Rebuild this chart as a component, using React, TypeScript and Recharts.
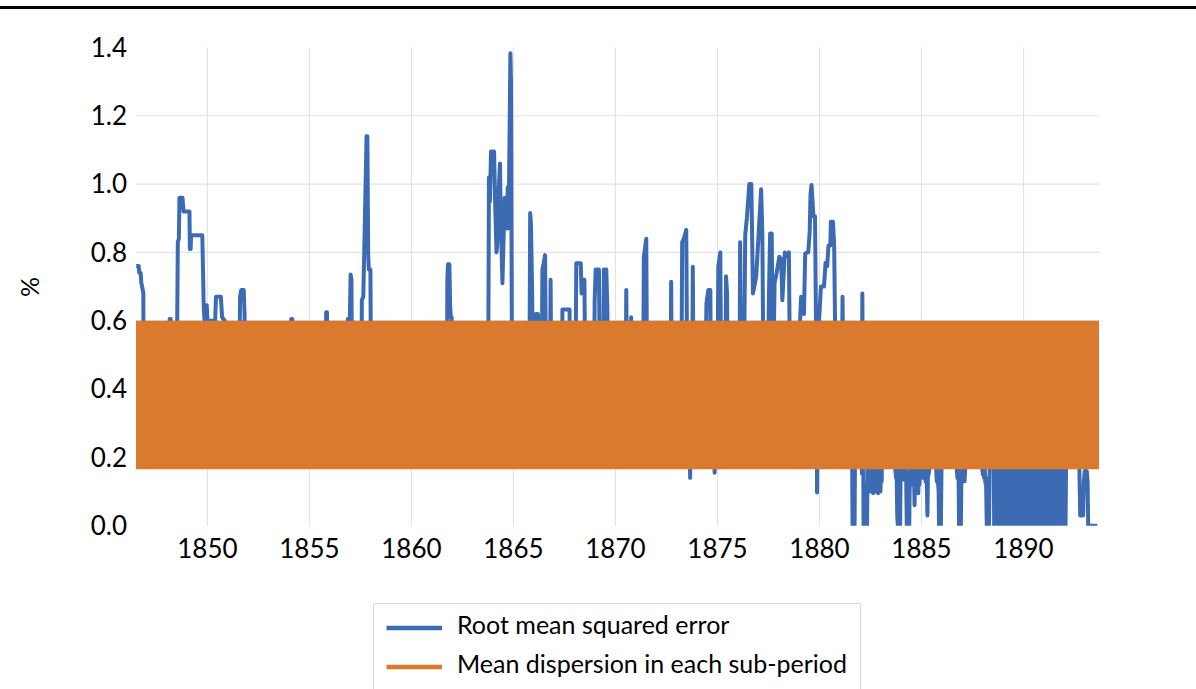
import React from 'react';
import { ComposedChart, Line, Area, XAxis, YAxis, CartesianGrid, Legend } from 'recharts';

const FONT = 'Lato, "Noto Sans", sans-serif';

const xDomain: [number, number] = [1846.5, 1893.7];
const xTicks = [1850, 1855, 1860, 1865, 1870, 1875, 1880, 1885, 1890];
const yTicks = [0, 0.2, 0.4, 0.6, 0.8, 1.0, 1.2, 1.4];
const gridYValues = [0.2, 0.4, 0.6, 0.8, 1.0, 1.2];

const seriesNames = ['Root mean squared error', 'Mean dispersion in each sub-period'];
const seriesColors = ['#3C6BB3', '#DA7A2F'];

// Mean dispersion band (sub-period bounds)
const dispersionYears = [1846.5, 1893.7];
const dispersionLow = [0.165, 0.165];
const dispersionHigh = [0.6, 0.6];

// Root mean squared error: [year, value]
const rmseSeries: [number, number][] = [
  [1846.51, 0.76], [1846.63, 0.76], [1846.66, 0.74], [1846.73, 0.74], [1846.76, 0.71], [1846.8, 0.7],
  [1846.83, 0.69], [1846.86, 0.68], [1846.87, 0.4], [1848.12, 0.4], [1848.15, 0.605], [1848.2, 0.605],
  [1848.22, 0.4], [1848.5, 0.45], [1848.55, 0.83], [1848.6, 0.84], [1848.63, 0.96], [1848.78, 0.96],
  [1848.83, 0.92], [1849.12, 0.92], [1849.14, 0.81], [1849.18, 0.81], [1849.2, 0.85], [1849.75, 0.85],
  [1849.82, 0.64], [1849.86, 0.6], [1849.9, 0.6], [1849.93, 0.645], [1849.97, 0.645], [1850.0, 0.6],
  [1850.38, 0.6], [1850.42, 0.67], [1850.66, 0.67], [1850.72, 0.61], [1850.85, 0.6], [1850.9, 0.4],
  [1851.56, 0.4], [1851.6, 0.67], [1851.66, 0.69], [1851.78, 0.69], [1851.82, 0.62], [1851.85, 0.4],
  [1854.08, 0.4], [1854.11, 0.605], [1854.16, 0.605], [1854.19, 0.4], [1855.8, 0.4], [1855.82, 0.625],
  [1855.86, 0.625], [1855.88, 0.4], [1856.86, 0.4], [1856.88, 0.605], [1856.98, 0.605], [1857.02, 0.735],
  [1857.06, 0.72], [1857.09, 0.4], [1857.55, 0.4], [1857.57, 0.66], [1857.64, 0.67], [1857.72, 0.9],
  [1857.8, 1.14], [1857.84, 1.14], [1857.88, 0.8], [1857.91, 0.75], [1857.99, 0.75], [1858.02, 0.4],
  [1861.74, 0.4], [1861.76, 0.72], [1861.79, 0.765], [1861.86, 0.765], [1861.9, 0.64], [1861.93, 0.61],
  [1861.97, 0.61], [1862.0, 0.4], [1863.76, 0.4], [1863.8, 1.02], [1863.85, 0.95], [1863.9, 1.095],
  [1864.05, 1.095], [1864.1, 0.95], [1864.17, 0.8], [1864.2, 0.82], [1864.26, 0.96], [1864.34, 1.06],
  [1864.38, 0.9], [1864.46, 0.71], [1864.52, 0.85], [1864.57, 0.96], [1864.63, 0.95], [1864.68, 0.87],
  [1864.72, 0.99], [1864.76, 0.87], [1864.82, 1.2], [1864.85, 1.383], [1864.88, 1.3], [1864.93, 0.4],
  [1865.78, 0.4], [1865.82, 0.915], [1865.86, 0.88], [1865.92, 0.67], [1865.95, 0.4], [1866.05, 0.4],
  [1866.1, 0.62], [1866.2, 0.62], [1866.26, 0.4], [1866.38, 0.4], [1866.42, 0.75], [1866.48, 0.768],
  [1866.55, 0.792], [1866.6, 0.4], [1866.79, 0.4], [1866.82, 0.72], [1866.86, 0.4], [1867.38, 0.4],
  [1867.4, 0.633], [1867.75, 0.633], [1867.78, 0.4], [1868.04, 0.4], [1868.08, 0.768], [1868.3, 0.768],
  [1868.34, 0.68], [1868.4, 0.72], [1868.48, 0.72], [1868.52, 0.4], [1868.95, 0.4], [1868.98, 0.656],
  [1869.03, 0.75], [1869.19, 0.75], [1869.24, 0.4], [1869.4, 0.4], [1869.43, 0.75], [1869.55, 0.75],
  [1869.6, 0.64], [1869.65, 0.4], [1870.5, 0.4], [1870.53, 0.69], [1870.57, 0.4], [1870.74, 0.4],
  [1870.77, 0.61], [1870.8, 0.4], [1871.36, 0.4], [1871.39, 0.786], [1871.51, 0.84], [1871.55, 0.4],
  [1872.7, 0.4], [1872.73, 0.714], [1872.76, 0.4], [1873.23, 0.4], [1873.27, 0.83], [1873.35, 0.84],
  [1873.47, 0.866], [1873.52, 0.4], [1873.6, 0.4], [1873.66, 0.14], [1873.7, 0.4], [1873.76, 0.4],
  [1873.79, 0.758], [1873.83, 0.4], [1874.4, 0.4], [1874.46, 0.65], [1874.55, 0.69], [1874.65, 0.69],
  [1874.68, 0.4], [1874.83, 0.4], [1874.86, 0.155], [1874.9, 0.4], [1875.0, 0.4], [1875.04, 0.758],
  [1875.14, 0.8], [1875.18, 0.4], [1875.38, 0.4], [1875.42, 0.73], [1875.47, 0.68], [1875.5, 0.4],
  [1876.08, 0.4], [1876.11, 0.83], [1876.16, 0.4], [1876.3, 0.45], [1876.36, 0.85], [1876.44, 0.9],
  [1876.56, 1.0], [1876.66, 1.0], [1876.74, 0.68], [1876.9, 0.73], [1877.06, 0.9], [1877.14, 0.985],
  [1877.2, 0.85], [1877.26, 0.4], [1877.48, 0.45], [1877.52, 0.67], [1877.58, 0.855], [1877.66, 0.855],
  [1877.72, 0.4], [1877.8, 0.71], [1877.9, 0.74], [1878.03, 0.787], [1878.12, 0.78], [1878.18, 0.66],
  [1878.3, 0.8], [1878.42, 0.79], [1878.5, 0.8], [1878.56, 0.4], [1879.0, 0.45], [1879.05, 0.6],
  [1879.1, 0.67], [1879.2, 0.67], [1879.24, 0.62], [1879.3, 0.797], [1879.45, 0.8], [1879.52, 0.86],
  [1879.56, 0.97], [1879.61, 0.997], [1879.66, 0.95], [1879.7, 0.906], [1879.78, 0.906], [1879.86, 0.4],
  [1879.88, 0.097], [1879.92, 0.4], [1879.98, 0.6], [1880.07, 0.7], [1880.22, 0.7], [1880.3, 0.77],
  [1880.38, 0.76], [1880.44, 0.82], [1880.53, 0.82], [1880.56, 0.89], [1880.66, 0.89], [1880.72, 0.82],
  [1880.8, 0.4], [1881.1, 0.4], [1881.13, 0.67], [1881.17, 0.4], [1881.58, 0.4], [1881.62, 0.0],
  [1881.65, 0.165], [1881.69, 0.12], [1881.72, 0.0], [1881.76, 0.4], [1882.05, 0.4], [1882.08, 0.153],
  [1882.1, 0.68], [1882.13, 0.4], [1882.16, 0.0], [1882.24, 0.0], [1882.27, 0.12], [1882.3, 0.0],
  [1882.33, 0.0], [1882.36, 0.165], [1882.39, 0.12], [1882.42, 0.165], [1882.45, 0.105], [1882.48, 0.165],
  [1882.51, 0.1], [1882.54, 0.165], [1882.57, 0.13], [1882.6, 0.165], [1882.63, 0.095], [1882.66, 0.165],
  [1882.69, 0.14], [1882.72, 0.165], [1882.75, 0.1], [1882.78, 0.165], [1882.81, 0.12], [1882.84, 0.165],
  [1882.87, 0.095], [1882.9, 0.165], [1882.93, 0.11], [1882.96, 0.165], [1882.99, 0.1], [1883.02, 0.165],
  [1883.05, 0.13], [1883.08, 0.4], [1883.7, 0.4], [1883.72, 0.165], [1883.75, 0.14], [1883.78, 0.165],
  [1883.81, 0.03], [1883.84, 0.0], [1883.88, 0.1], [1883.91, 0.0], [1883.95, 0.0], [1883.98, 0.165],
  [1884.01, 0.14], [1884.04, 0.165], [1884.07, 0.15], [1884.1, 0.165], [1884.13, 0.135], [1884.16, 0.165],
  [1884.19, 0.14], [1884.22, 0.165], [1884.25, 0.13], [1884.28, 0.0], [1884.32, 0.09], [1884.36, 0.0],
  [1884.4, 0.0], [1884.43, 0.165], [1884.46, 0.12], [1884.49, 0.165], [1884.52, 0.14], [1884.55, 0.165],
  [1884.6, 0.12], [1884.63, 0.165], [1884.66, 0.06], [1884.69, 0.165], [1884.72, 0.12], [1884.75, 0.165],
  [1884.78, 0.1], [1884.81, 0.165], [1884.84, 0.095], [1884.87, 0.165], [1884.9, 0.12], [1884.93, 0.165],
  [1884.96, 0.14], [1884.99, 0.165], [1885.02, 0.15], [1885.05, 0.165], [1885.08, 0.14], [1885.11, 0.165],
  [1885.14, 0.15], [1885.17, 0.165], [1885.2, 0.13], [1885.23, 0.165], [1885.26, 0.12], [1885.29, 0.03],
  [1885.32, 0.165], [1885.35, 0.15], [1885.38, 0.165], [1885.45, 0.4], [1885.7, 0.4], [1885.72, 0.165],
  [1885.75, 0.13], [1885.78, 0.165], [1885.81, 0.125], [1885.84, 0.1], [1885.86, 0.0], [1885.9, 0.08],
  [1885.95, 0.0], [1885.98, 0.165], [1886.05, 0.4], [1886.7, 0.4], [1886.73, 0.165], [1886.76, 0.14],
  [1886.79, 0.165], [1886.82, 0.13], [1886.84, 0.0], [1886.88, 0.1], [1886.93, 0.0], [1886.96, 0.165],
  [1886.99, 0.145], [1887.02, 0.165], [1887.05, 0.15], [1887.08, 0.165], [1887.11, 0.13], [1887.14, 0.165],
  [1887.2, 0.4], [1887.95, 0.4], [1887.98, 0.165], [1888.01, 0.15], [1888.04, 0.165], [1888.07, 0.14],
  [1888.1, 0.165], [1888.13, 0.125], [1888.16, 0.14], [1888.2, 0.0], [1888.25, 0.1], [1888.31, 0.0],
  [1888.34, 0.165], [1888.37, 0.4], [1888.53, 0.4], [1888.56, 0.0], [1888.585, 0.165], [1888.61, 0.0],
  [1888.635, 0.15], [1888.66, 0.0], [1888.685, 0.165], [1888.71, 0.02], [1888.735, 0.165], [1888.76, 0.0],
  [1888.785, 0.14], [1888.81, 0.0], [1888.835, 0.165], [1888.86, 0.0], [1888.885, 0.165], [1888.91, 0.03],
  [1888.935, 0.16], [1888.96, 0.0], [1888.985, 0.165], [1889.01, 0.0], [1889.035, 0.165], [1889.06, 0.0],
  [1889.085, 0.15], [1889.11, 0.0], [1889.135, 0.165], [1889.16, 0.01], [1889.185, 0.165], [1889.21, 0.0],
  [1889.235, 0.165], [1889.26, 0.0], [1889.285, 0.12], [1889.31, 0.0], [1889.335, 0.165], [1889.36, 0.0],
  [1889.385, 0.165], [1889.41, 0.02], [1889.435, 0.165], [1889.46, 0.0], [1889.485, 0.16], [1889.51, 0.0],
  [1889.535, 0.165], [1889.56, 0.0], [1889.585, 0.165], [1889.61, 0.0], [1889.635, 0.14], [1889.66, 0.0],
  [1889.685, 0.165], [1889.71, 0.03], [1889.735, 0.165], [1889.76, 0.0], [1889.785, 0.165], [1889.81, 0.0],
  [1889.835, 0.15], [1889.86, 0.0], [1889.885, 0.165], [1889.91, 0.0], [1889.935, 0.165], [1889.96, 0.02],
  [1889.985, 0.16], [1890.01, 0.0], [1890.035, 0.165], [1890.06, 0.0], [1890.1, 0.165], [1890.15, 0.02],
  [1890.2, 0.165], [1890.26, 0.0], [1890.285, 0.165], [1890.31, 0.0], [1890.335, 0.165], [1890.36, 0.0],
  [1890.385, 0.15], [1890.41, 0.0], [1890.435, 0.165], [1890.46, 0.02], [1890.485, 0.165], [1890.51, 0.0],
  [1890.535, 0.165], [1890.585, 0.165], [1890.61, 0.0], [1890.635, 0.14], [1890.66, 0.0], [1890.685, 0.165],
  [1890.71, 0.0], [1890.735, 0.165], [1890.76, 0.03], [1890.785, 0.165], [1890.81, 0.0], [1890.835, 0.16],
  [1890.86, 0.0], [1890.885, 0.165], [1890.91, 0.0], [1890.935, 0.165], [1890.96, 0.0], [1890.985, 0.15],
  [1891.01, 0.0], [1891.035, 0.165], [1891.06, 0.02], [1891.085, 0.165], [1891.11, 0.0], [1891.135, 0.165],
  [1891.16, 0.0], [1891.185, 0.14], [1891.21, 0.0], [1891.235, 0.165], [1891.26, 0.0], [1891.285, 0.165],
  [1891.31, 0.01], [1891.335, 0.16], [1891.36, 0.0], [1891.385, 0.165], [1891.41, 0.0], [1891.435, 0.165],
  [1891.46, 0.0], [1891.485, 0.15], [1891.51, 0.0], [1891.535, 0.165], [1891.56, 0.02], [1891.585, 0.165],
  [1891.61, 0.0], [1891.635, 0.165], [1891.66, 0.0], [1891.685, 0.13], [1891.71, 0.0], [1891.735, 0.165],
  [1891.76, 0.0], [1891.785, 0.16], [1891.81, 0.0], [1891.835, 0.12], [1891.86, 0.0], [1891.885, 0.165],
  [1891.91, 0.0], [1891.935, 0.15], [1891.96, 0.0], [1891.985, 0.165], [1892.01, 0.0], [1892.035, 0.165],
  [1892.06, 0.0], [1892.085, 0.165], [1892.15, 0.4], [1892.7, 0.4], [1892.74, 0.16], [1892.78, 0.03],
  [1892.92, 0.03], [1892.96, 0.13], [1893.0, 0.16], [1893.1, 0.16], [1893.14, 0.13], [1893.17, 0.0],
  [1893.62, 0.0],
];

const rmseData = rmseSeries.map(([year, rmse]) => ({ year, rmse }));
const dispersionData = dispersionYears.map((year, i) => ({
  year,
  band: [dispersionLow[i], dispersionHigh[i]],
}));

const LegendBox = () => (
  <svg width={488} height={86} style={{ display: 'block', overflow: 'visible' }}>
    <path d="M0.5 86 V0.5 H487.5 V86" fill="none" stroke="#d9d9d9" strokeWidth={1} />
    {seriesNames.map((name, i) => (
      <g key={name}>
        <line x1={13.5} x2={69} y1={25 + i * 39} y2={25 + i * 39} stroke={seriesColors[i]} strokeWidth={4.5} />
        <text x={84} y={31 + i * 39} fontFamily={FONT} fontSize={25} fill="#000">
          {name}
        </text>
      </g>
    ))}
  </svg>
);

const PercentLabel = () => (
  <text
    x={29}
    y={287}
    transform="rotate(-90 29 287)"
    textAnchor="middle"
    dominantBaseline="central"
    fontFamily={FONT}
    fontSize={25}
    fill="#000"
  >
    %
  </text>
);

export default function App() {
  return (
    <div style={{ position: 'absolute', left: 0, top: 0, width: 1196, height: 689, overflow: 'hidden', background: '#fff' }}>
      <div style={{ position: 'absolute', left: 0, top: 6, width: 1196, height: 3, background: '#000' }} />
      <ComposedChart
        width={1196}
        height={689}
        margin={{ top: 47.4, right: 97, left: 0, bottom: 123.3 }}
      >
        <CartesianGrid
          stroke="#e3e3e3"
          strokeWidth={1.2}
          horizontalValues={gridYValues}
          verticalValues={xTicks}
        />
        <XAxis
          dataKey="year"
          type="number"
          domain={xDomain}
          allowDataOverflow
          ticks={xTicks}
          axisLine={false}
          tickLine={false}
          tickSize={0}
          tickMargin={14}
          height={40}
          tick={{ fontFamily: FONT, fontSize: 26, fill: '#000' }}
        />
        <YAxis
          type="number"
          domain={[0, 1.4]}
          ticks={yTicks}
          allowDataOverflow
          axisLine={false}
          tickLine={false}
          tickSize={0}
          tickMargin={9}
          width={136}
          tickFormatter={(v: number) => v.toFixed(1)}
          tick={{ fontFamily: FONT, fontSize: 26, fill: '#000' }}
          label={{ content: () => <PercentLabel /> }}
        />
        <Line
          data={rmseData}
          dataKey="rmse"
          name={seriesNames[0]}
          type="linear"
          stroke={seriesColors[0]}
          strokeWidth={4}
          strokeLinejoin="round"
          dot={false}
          activeDot={false}
          isAnimationActive={false}
        />
        <Area
          data={dispersionData}
          dataKey="band"
          name={seriesNames[1]}
          type="linear"
          stroke="none"
          fill={seriesColors[1]}
          fillOpacity={1}
          dot={false}
          activeDot={false}
          isAnimationActive={false}
          zIndex={500}
        />
        <Legend
          layout="vertical"
          align="center"
          verticalAlign="middle"
          wrapperStyle={{ left: 372.7, top: 603.3, width: 488, height: 86 }}
          content={() => <LegendBox />}
        />
      </ComposedChart>
    </div>
  );
}
